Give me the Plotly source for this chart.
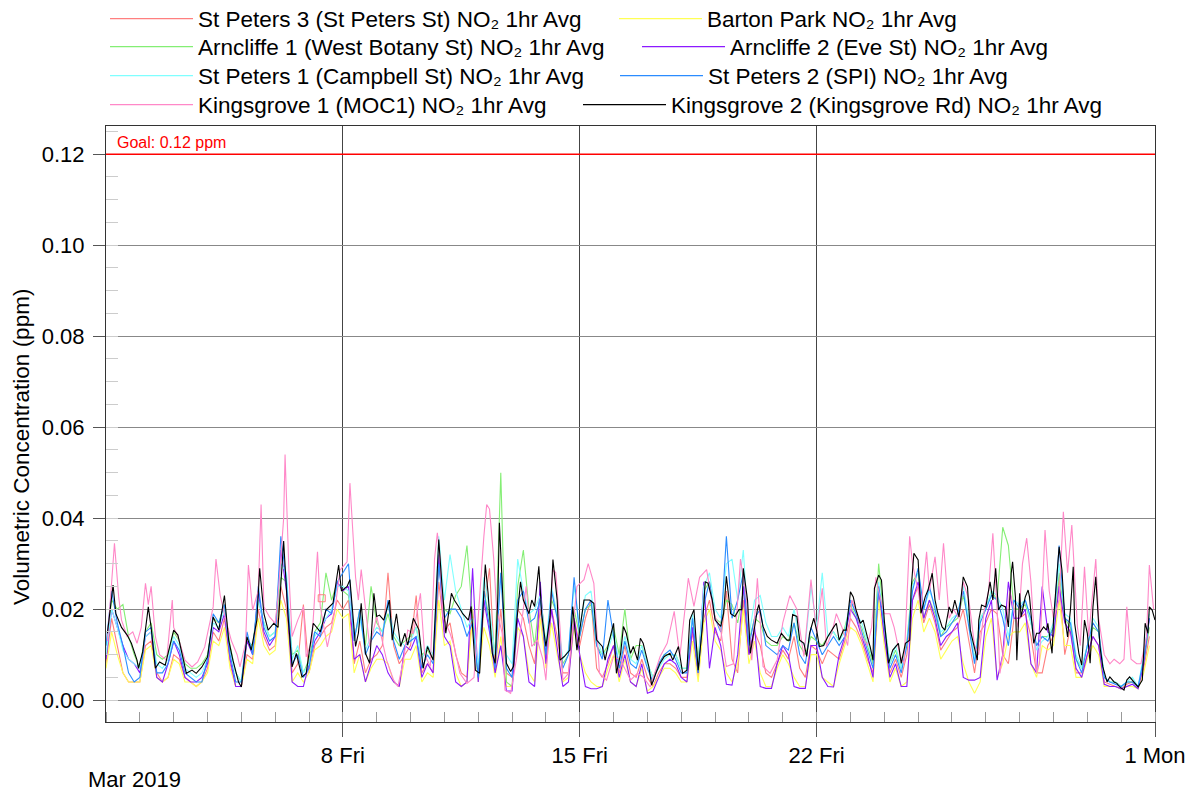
import plotly.graph_objects as go
import pandas as pd

# ---------------- data (ppb = ppm * 1000) ----------------
START = pd.Timestamp("2019-03-01 00:00")

# 4-hourly grid (hours since 1 Mar 2019 00:00) used by the coloured stations
hours_4h = list(range(0, 744, 4))

st_peters3_ppb = [
    [8, 18, 12, 6, 4, 4], [4, 12, 13, 6, 4, 5], [10, 9, 5, 4, 3, 4], [7, 15, 13, 18, 8, 3],
    [3, 10, 9, 20, 14, 11], [12, 25, 20, 6, 8, 21], [6, 12, 14, 16, 17, 22], [20, 22, 8, 13, 6, 9],
    [10, 12, 28, 12, 8, 10], [12, 23, 6, 8, 6, 26], [15, 17, 10, 6, 5, 20], [5, 20, 29, 6, 20, 6],
    [5, 20, 18, 12, 8, 20], [9, 20, 14, 6, 6, 18], [12, 18, 22, 7, 5, 8], [12, 6, 12, 6, 5, 9],
    [5, 3, 6, 8, 8, 7], [5, 5, 15, 5, 18, 22], [15, 13, 24, 9, 6, 22], [10, 15, 12, 6, 5, 8],
    [11, 9, 14, 7, 5, 12], [11, 8, 11, 10, 9, 13], [18, 16, 13, 9, 6, 24], [14, 6, 9, 5, 10, 22],
    [25, 17, 21, 17, 11, 13], [15, 16, 20, 13, 6, 15], [17, 20, 19, 10, 8, 18], [18, 19, 14, 6, 6, 12],
    [14, 27, 10, 16, 6, 6], [10, 14, 12, 4, 3.5, 3], [2.5, 3.5, 4, 3, 7, 14],
]
barton_park_ppb = [
    [7, 15, 10, 6, 4, 4], [4, 11, 12, 5, 4, 5], [9, 8, 4, 4, 3, 4], [6, 13, 12, 16, 7, 3],
    [3, 9, 8, 18, 12, 10], [11, 22, 18, 4, 6, 4], [6, 11, 12, 14, 15, 20], [18, 19, 6, 10, 4, 7],
    [9, 9, 8, 4, 3, 9], [9, 12, 4, 6, 5, 22], [12, 13, 6, 3, 4, 18], [4, 16, 12, 5, 14, 3],
    [3, 16, 14, 6, 4, 18], [7, 17, 10, 4, 5, 16], [10, 6, 4, 3, 3, 7], [10, 4, 9, 4, 3, 7],
    [2, 3, 5, 7, 7, 6], [4, 4, 13, 4, 17, 20], [13, 11, 6, 4, 8, 20], [8, 13, 6, 3, 3, 7],
    [10, 8, 5, 3, 3, 10], [10, 5, 4, 3, 8, 12], [16, 15, 12, 8, 4, 22], [12, 4, 7, 3, 4, 18],
    [22, 15, 18, 15, 9, 11], [13, 14, 8, 4, 1.5, 4], [14, 18, 5, 8, 14, 15], [15, 17, 8, 5, 12, 11],
    [12, 22, 12, 12, 5, 5], [9, 12, 10, 3, 3, 3], [2.5, 3, 3, 2.5, 6, 12],
]
arncliffe1_ppb = [
    [12, 22, 20, 21, 14, 10], [7, 15, 17, 10, 9, 10], [15, 13, 8, 7, 7, 8], [10, 18, 17, 21, 12, 6],
    [4, 13, 12, 22, 17, 14], [15, 27, 26, 10, 11, 6], [9, 15, 17, 28, 22, 26], [24, 23, 13, 20, 12, 25],
    [17, 15, 19, 14, 12, 13], [14, 16, 10, 11, 9, 30], [20, 19, 23, 25, 34, 18], [5, 24, 18, 10, 50, 4],
    [3, 25, 33, 20, 12, 24], [12, 22, 19, 8, 10, 20], [14, 20, 21, 12, 10, 12], [16, 10, 20, 9, 12, 12],
    [8, 5, 8, 10, 10, 10], [7, 7, 18, 9, 24, 26], [18, 17, 22, 21, 17, 24], [13, 18, 17, 13, 12, 12],
    [14, 13, 17, 12, 10, 14], [13, 12, 14, 15, 13, 16], [21, 18, 16, 12, 8, 30], [17, 8, 11, 7, 13, 26],
    [28, 18, 22, 19, 14, 16], [17, 18, 23, 17, 9, 18], [20, 24, 22, 38, 34, 20], [20, 21, 17, 12, 14, 14],
    [16, 28, 18, 16, 9, 7], [12, 16, 15, 5, 4, 4], [3, 4, 4, 3, 8, 16],
]
arncliffe2_ppb = [
    [9, 20, 16, 12, 9, 8], [6, 14, 15, 5, 4, 8], [13, 10, 5, 4, 4, 5], [8, 16, 15, 19, 9, 3],
    [3, 13, 10, 24, 15, 12], [14, 33, 24, 4, 3, 3], [8, 13, 15, 18, 19, 26], [24, 25, 9, 10, 4, 8],
    [12, 10, 6, 4, 3, 12], [11, 14, 5, 8, 6, 32], [14, 12, 4, 3, 4, 29], [4, 22, 15, 6, 12, 2],
    [2, 18, 14, 4, 3, 26], [8, 20, 12, 3, 4, 18], [10, 3, 2.5, 2.5, 3, 9], [12, 5, 10, 4, 3, 8],
    [1.5, 2, 5, 8, 9, 8], [5, 4, 16, 6, 26, 7], [16, 12, 3.5, 3.3, 10, 25], [10, 16, 3, 2.6, 2.6, 8],
    [12, 10, 3, 2.6, 2.6, 12], [12, 5, 3, 2.9, 10, 14], [20, 18, 14, 10, 5, 25], [14, 5, 8, 3, 3, 22],
    [26, 18, 22, 18, 12, 14], [15, 17, 5, 4.4, 4.4, 5], [18, 22, 4.4, 10, 26, 18], [18, 20, 8, 6, 25, 15],
    [14, 25, 17, 15, 7, 5], [10, 14, 12, 3.5, 3, 3], [2.5, 3, 3.5, 2.5, 8, 18],
]
st_peters1_ppb = [
    [10, 20, 16, 11, 9, 8], [7, 14, 15, 8, 7, 9], [14, 12, 7, 6, 5, 6], [9, 17, 16, 20, 11, 6],
    [4, 14, 11, 22, 17, 14], [15, 30, 28, 9, 12, 6], [8, 14, 16, 18, 20, 25], [25, 24, 14, 18, 11, 14],
    [16, 15, 21, 15, 13, 12], [13, 16, 9, 12, 10, 36], [22, 32, 24, 20, 16, 18], [7, 27, 20, 10, 28, 10],
    [8, 31, 24, 19, 20, 23], [12, 25, 19, 9, 11, 25], [16, 23, 24, 14, 10, 11], [15, 8, 14, 9, 8, 12],
    [8, 5, 7, 9, 10, 10], [7, 7, 19, 7, 25, 28], [20, 18, 30, 31, 22, 33], [14, 22, 23, 17, 14, 14],
    [16, 14, 20, 13, 12, 25], [16, 28, 14, 15, 13, 15], [22, 19, 17, 13, 9, 26], [17, 8, 12, 7, 12, 25],
    [28, 20, 24, 21, 15, 16], [18, 19, 25, 18, 9, 18], [20, 24, 23, 20, 14, 22], [21, 22, 17, 11, 13, 14],
    [17, 30, 19, 18, 10, 7], [12, 18, 16, 5, 4, 4], [3, 4, 5, 3, 10, 19],
]
st_peters2_ppb = [
    [12, 24, 17, 12, 6, 4], [5, 15, 16, 6, 6, 8], [13, 11, 6, 5, 4, 4], [9, 19, 17, 21, 10, 4],
    [4, 15, 10, 25, 16, 13], [14, 36, 26, 8, 10, 5], [7, 15, 14, 20, 19, 26], [28, 30, 13, 20, 10, 13],
    [15, 14, 22, 13, 9, 12], [13, 14, 7, 10, 8, 30], [18, 20, 20, 18, 14, 17], [5, 24, 16, 7, 28, 7],
    [5, 22, 24, 17, 18, 22], [10, 24, 18, 7, 10, 27], [14, 20, 22, 12, 9, 22], [14, 7, 13, 8, 7, 11],
    [7, 4, 8, 10, 11, 9], [6, 6, 18, 6, 21, 26], [18, 15, 36, 18, 22, 28], [12, 18, 20, 12, 11, 10],
    [12, 11, 17, 10, 8, 16], [13, 10, 12, 14, 12, 14], [22, 19, 15, 11, 7, 25], [16, 7, 10, 6, 12, 24],
    [29, 20, 25, 20, 14, 15], [17, 19, 24, 16, 8, 17], [20, 23, 22, 18, 12, 22], [20, 22, 18, 12, 14, 13],
    [16, 34, 18, 17, 9, 6], [12, 17, 15, 5, 4, 3.5], [3, 4, 4, 3, 9, 18],
]

# Kingsgrove 1 (MOC1): (hour since start, ppb)
kingsgrove1_points = [
    (1, 13), (6, 34.5), (9, 22.7), (11, 17.6), (15, 14), (19, 15), (22, 12.5), (25, 16), (28, 25.7),
    (30, 21), (32, 25), (35, 14), (38, 10), (43, 8.8), (47, 22), (48, 16), (51, 14), (56, 8.8),
    (61, 7.3), (65, 8.4), (70, 11.7), (76, 20.5), (78, 31), (81, 23), (85, 17.6), (89, 13), (93, 10),
    (95, 7.3), (99, 12.5), (101, 29.7), (104, 19.8), (108, 24), (110, 43), (112, 20.5), (116, 18.3),
    (120, 16.9), (122, 22.7), (126, 40), (127, 54), (128, 45), (130, 26), (132, 14), (136, 17.6),
    (140, 20.5), (142, 9.5), (146, 13), (150, 32.6), (152, 20.5), (157, 11.7), (162, 19), (166, 28.6),
    (171, 30.4), (173, 47.7), (177, 27), (179, 22), (181, 28.7), (184, 20), (187, 11.8), (192, 18.4),
    (196, 13), (199, 8.8), (204, 4.4), (207, 3), (211, 8.8), (214, 15.4), (218, 14.7), (223, 23.5),
    (226, 10), (230, 7.4), (233, 31), (235, 36.8), (237, 31), (239, 18.4), (244, 14.7), (247, 11.8),
    (251, 5.9), (256, 3.7), (261, 5), (265, 23.5), (268, 36), (270, 43), (272, 42), (275, 31),
    (277, 20), (281, 14.7), (283, 2.2), (287, 1.5), (291, 8.8), (295, 17.6), (298, 25), (302, 11.8),
    (306, 13.2), (310, 8.8), (312, 4.4), (317, 28.7), (319, 28), (322, 16), (324, 4.4), (328, 5.9),
    (331, 14.7), (334, 25), (339, 26.5), (342, 30), (346, 25.7), (350, 5.9), (355, 4.4), (360, 9.6),
    (365, 8.8), (372, 4.4), (377, 5.9), (381, 5.1), (386, 2.9), (393, 9.6), (398, 12.5), (403, 19.5),
    (407, 9.6), (413, 26.8), (417, 20.6), (421, 27), (426, 28.7), (431, 19), (436, 15.4), (440, 7.4),
    (445, 8), (450, 31), (454, 22.8), (458, 8.8), (462, 26.8), (466, 7.4), (471, 5.9), (476, 8.8),
    (480, 17), (485, 23), (490, 20), (495, 9.6), (500, 26.5), (504, 14.7), (508, 24.6), (511, 11.8),
    (515, 15), (518, 19), (522, 16), (526, 12), (529, 22), (533, 19), (536, 14), (540, 12), (543, 16),
    (546, 27), (548, 24), (552, 19), (556, 19), (559, 16), (563, 10), (566, 8), (570, 36), (572, 30),
    (576, 24), (578, 20), (582, 32.6), (584, 24), (588, 31.5), (591, 22), (594, 34.5), (598, 18),
    (601, 20), (605, 18), (608, 26), (612, 22), (616, 12), (619, 10), (623, 20), (626, 24), (629, 36.7),
    (632, 20), (634, 5.9), (637, 12), (641, 24), (644, 20), (647, 16), (650, 30), (653, 35.6), (656, 26),
    (660, 6), (662, 8), (666, 37.4), (669, 24), (672, 18), (676, 22), (679, 41.4), (682, 28), (685, 38.5),
    (689, 16), (691, 12), (694, 29.3), (697, 14), (702, 31), (704, 18), (708, 10), (712, 8), (715, 9),
    (719, 8), (722, 9), (724, 20.5), (727, 9), (731, 8), (734, 8), (738, 14), (740, 29.7), (743, 20),
]

# Kingsgrove 2 (Kingsgrove Rd): (hour since start, ppb)
kingsgrove2_points = [
    (1, 14.7), (5, 25.3), (7, 19), (11, 16), (15, 14.3), (18, 12.5), (22, 8.8), (23, 7), (26, 10.6),
    (30, 20.5), (32, 16), (35, 7), (38, 8.4), (42, 7.7), (44, 10.3), (48, 15.4), (51, 14.3), (54, 10.3),
    (57, 5.9), (61, 6.6), (64, 5.9), (68, 7.3), (72, 9.5), (76, 18.3), (80, 15.4), (84, 23), (87, 13.2),
    (90, 8.8), (94, 4), (96, 2.9), (100, 13.9), (103, 11), (107, 17.6), (109, 29), (112, 19), (115, 15.4),
    (119, 16.9), (122, 16), (125, 29), (126, 35), (129, 19), (132, 7.3), (135, 10.3), (139, 5.1),
    (142, 5.9), (147, 16.9), (152, 15), (156, 19.8), (161, 21.3), (165, 29.7), (167, 24), (171, 25),
    (173, 26.5), (177, 11.8), (179, 14.7), (181, 21.3), (184, 10.3), (187, 8.1), (190, 23.5), (192, 18.4),
    (194, 18.7), (197, 17.6), (201, 22), (203, 13.2), (206, 19), (209, 11.8), (212, 14.7), (214, 12.1),
    (218, 18), (222, 15.4), (225, 7), (228, 11.8), (232, 8.8), (234, 23.5), (236, 35.3), (238, 26.5),
    (241, 14.7), (245, 23.5), (247, 22), (250, 20.6), (253, 19), (257, 17.6), (259, 20.6), (262, 6.6),
    (265, 5.9), (269, 29.8), (271, 23.5), (274, 10.3), (276, 8.1), (278, 23.5), (279, 39), (282, 19),
    (284, 8.1), (287, 6.3), (289, 7.4), (291, 16.2), (294, 26), (296, 22), (300, 19), (302, 22),
    (304, 20.6), (307, 29.4), (309, 19), (312, 11.8), (315, 18.4), (317, 30.9), (320, 22), (322, 8.8),
    (325, 9.6), (329, 11), (331, 20.6), (334, 11), (339, 22), (343, 22), (346, 21.3), (348, 13.2),
    (352, 11.8), (354, 8.8), (356, 11.8), (360, 16.9), (362, 5.9), (365, 10.3), (367, 16.2), (369, 14.7),
    (372, 10.3), (374, 11.8), (377, 8.8), (379, 13.6), (381, 12.5), (385, 7.4), (387, 3.3), (390, 5.9),
    (393, 8.1), (396, 9.6), (400, 10.3), (402, 8.8), (406, 11.8), (409, 5.9), (412, 6.6), (414, 17.6),
    (417, 19.9), (420, 6.6), (423, 16.2), (425, 26), (427, 25.7), (430, 22), (432, 17.6), (436, 16.2),
    (438, 19), (440, 27.2), (443, 19), (446, 18.4), (449, 19.9), (451, 19.9), (452, 29), (455, 22),
    (457, 10.3), (462, 19.9), (463, 21), (466, 16.2), (469, 14), (472, 13.2), (476, 12.5), (479, 14.7),
    (483, 13.2), (485, 13.2), (487, 18.8), (490, 18.4), (492, 13.2), (495, 12.5), (497, 9.6), (499, 14.7),
    (502, 18), (504, 15.4), (506, 11.8), (509, 12), (512, 14), (516, 16), (518, 16.9), (520, 13.2),
    (523, 15.4), (525, 15.4), (528, 23.8), (530, 22.7), (532, 19.8), (535, 16.9), (537, 17.6), (540, 13.9),
    (542, 11.7), (544, 8.8), (545, 24.6), (548, 27.5), (550, 26.4), (552, 17.6), (555, 8.1), (558, 11),
    (562, 12.5), (564, 8.1), (567, 12.5), (570, 13.2), (571, 24.2), (573, 32.3), (576, 30.8), (578, 19.1),
    (581, 22.7), (583, 24.2), (586, 27.9), (588, 22), (590, 19.1), (593, 16.1), (595, 15.4), (598, 20.5),
    (600, 19.1), (602, 22), (605, 18.3), (608, 27.1), (611, 24.9), (613, 15.4), (615, 12.5), (618, 8.8),
    (619, 17.6), (621, 20.9), (624, 20.5), (626, 24.9), (627, 26), (629, 22), (631, 29), (633, 19.8),
    (635, 20.9), (638, 20.5), (640, 16.1), (642, 27.9), (643, 30.4), (645, 22.7), (646, 8.8), (648, 23.5),
    (649, 18.3), (652, 22.7), (654, 24.2), (655, 22.7), (658, 12.5), (660, 14.7), (662, 14.7), (665, 16.1),
    (667, 15.4), (668, 16.9), (671, 10.3), (672, 17.6), (674, 25.7), (676, 33.7), (678, 28.6), (680, 18.3),
    (682, 13.9), (684, 19.8), (686, 29.3), (687, 16.9), (690, 10.3), (692, 7.7), (694, 17.6), (696, 14.7),
    (698, 8.1), (700, 20.5), (702, 27.1), (703, 22.7), (705, 11.7), (707, 7.3), (710, 4), (712, 5.1),
    (715, 4), (717, 3.7), (719, 2.9), (722, 2.2), (724, 4.4), (726, 5.1), (729, 4), (732, 2.9), (735, 4.4),
    (737, 16.9), (739, 14.7), (740, 20.5), (742, 19.8), (744, 17.6),
]

# isolated St Peters 3 reading (drawn as an open square)
st_peters3_single_hour = [153]
st_peters3_single_ppb = [22.4]

goal_ppm = 0.12

x_tick_dates = ["2019-03-08", "2019-03-15", "2019-03-22", "2019-04-01"]
x_tick_labels = ["8 Fri", "15 Fri", "22 Fri", "1 Mon"]
y_tick_vals = [0.00, 0.02, 0.04, 0.06, 0.08, 0.10, 0.12]

# ---------------- helpers ----------------
def to_time(hours):
    return [START + pd.Timedelta(hours=h) for h in hours]

def flatten(rows):
    return [v for row in rows for v in row]

def ppm(vals):
    return [v / 1000.0 for v in vals]

FONT = "Liberation Sans, Arial, Helvetica, sans-serif"
FS = 22
LEG_FS = 22.5

# the page adds an 8px body margin, so the figure is 8px smaller than the window
W, H = 1188, 786

# legend slot for each station: (legend id, left px, row centre px)
series = [
    ("St Peters 3 (St Peters St) NO₂ 1hr Avg", hours_4h, flatten(st_peters3_ppb), "#ff7f7f", ("legend", 97, 11)),
    ("Barton Park NO₂ 1hr Avg", hours_4h, flatten(barton_park_ppb), "#ffff55", ("legend2", 606, 11)),
    ("Arncliffe 1 (West Botany St) NO₂ 1hr Avg", hours_4h, flatten(arncliffe1_ppb), "#84ee74", ("legend3", 97, 39)),
    ("Arncliffe 2 (Eve St) NO₂ 1hr Avg", hours_4h, flatten(arncliffe2_ppb), "#8c1aff", ("legend4", 629, 39)),
    ("St Peters 1 (Campbell St) NO₂ 1hr Avg", hours_4h, flatten(st_peters1_ppb), "#7fffff", ("legend5", 97, 68)),
    ("St Peters 2 (SPI) NO₂ 1hr Avg", hours_4h, flatten(st_peters2_ppb), "#2b8cff", ("legend6", 607, 68)),
    ("Kingsgrove 1 (MOC1) NO₂ 1hr Avg", [p[0] for p in kingsgrove1_points],
     [p[1] for p in kingsgrove1_points], "#ff88c8", ("legend7", 97, 97)),
    ("Kingsgrove 2 (Kingsgrove Rd) NO₂ 1hr Avg", [p[0] for p in kingsgrove2_points],
     [p[1] for p in kingsgrove2_points], "#000000", ("legend8", 570, 97)),
]

fig = go.Figure()
legend_layout = {}
for name, hrs, vals, color, (leg, lx, ly) in series:
    fig.add_trace(go.Scatter(
        x=to_time(hrs), y=ppm(vals), mode="lines", name=name,
        line=dict(color=color, width=1.1), legend=leg,
    ))
    legend_layout[leg] = dict(
        orientation="h", xref="container", x=lx / W, yref="container",
        y=1 - ly / H, yanchor="middle",
        font=dict(family=FONT, size=LEG_FS, color="#000"), itemwidth=83,
        bgcolor="rgba(0,0,0,0)", borderwidth=0,
    )

fig.add_trace(go.Scatter(
    x=to_time(st_peters3_single_hour), y=ppm(st_peters3_single_ppb), mode="markers",
    marker=dict(symbol="square-open", size=7, color="#ff7f7f", line=dict(width=1)),
    showlegend=False,
))

# goal line
fig.add_shape(type="line", xref="paper", x0=0, x1=1, yref="y", y0=goal_ppm, y1=goal_ppm,
              line=dict(color="#ff0000", width=1.5))
fig.add_annotation(text="Goal: 0.12 ppm", xref="paper", x=0, xanchor="left", xshift=9,
                   yref="y", y=goal_ppm, yanchor="bottom", yshift=1, showarrow=False,
                   font=dict(family=FONT, size=16, color="#ff0000"))
fig.add_annotation(text="Mar 2019", xref="paper", x=-0.019, xanchor="left",
                   yref="paper", y=-0.097, yanchor="middle", showarrow=False,
                   font=dict(family=FONT, size=FS, color="#000"))
# y-axis title (placed as in the reference, slightly below the plot centre)
fig.add_annotation(text="Volumetric Concentration (ppm)", textangle=-90,
                   xref="paper", x=(13 - 98) / 1049, xanchor="center",
                   yref="paper", y=(714 - 439) / 596, yanchor="middle", showarrow=False,
                   borderpad=0, font=dict(family=FONT, size=22.5, color="#000"))

fig.update_layout(
    width=W, height=H,
    margin=dict(l=98, r=41, t=118, b=72, autoexpand=False),
    paper_bgcolor="white", plot_bgcolor="white",
    font=dict(family=FONT, size=FS, color="#000"),
    showlegend=True,
    **legend_layout,
)

fig.update_xaxes(
    type="date", range=["2019-03-01", "2019-04-01"],
    tickvals=x_tick_dates, ticktext=x_tick_labels,
    ticks="outside", ticklen=14, tickcolor="#555", tickwidth=1,
    tickfont=dict(family=FONT, size=FS, color="#000"),
    showgrid=True, gridcolor="#444", gridwidth=1,
    showline=True, linecolor="#333", linewidth=1, mirror=True,
    minor=dict(dtick=86400000, ticks="inside", ticklen=10, tickcolor="#999", showgrid=False),
    zeroline=False, automargin=False,
)
fig.update_yaxes(
    range=[-0.0048, 0.1262], tickvals=y_tick_vals, tickformat=".2f",
    ticks="outside", ticklen=12, tickcolor="#555", tickwidth=1,
    tickfont=dict(family=FONT, size=FS, color="#000"),
    ticklabelstandoff=4,
    showgrid=True, gridcolor="#888", gridwidth=1,
    showline=True, linecolor="#333", linewidth=1, mirror=True,
    minor=dict(dtick=0.005, tick0=0, ticks="inside", ticklen=12, tickcolor="#ccc", showgrid=False),
    zeroline=False, automargin=False,
)

fig.write_html("out.html")
